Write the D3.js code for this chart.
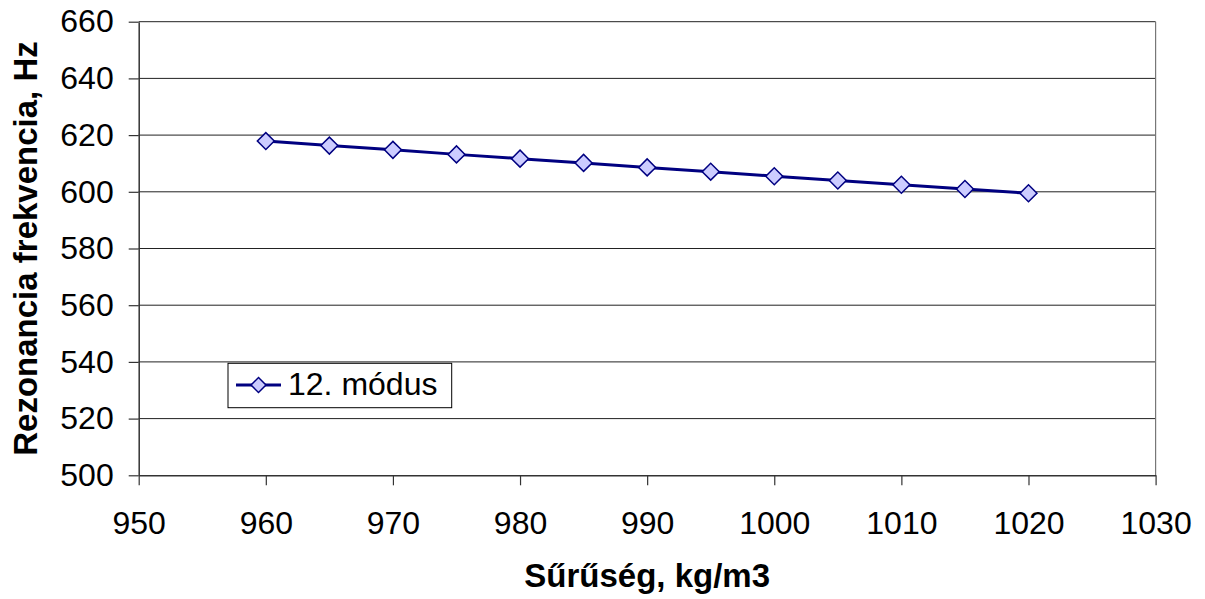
<!DOCTYPE html>
<html>
<head>
<meta charset="utf-8">
<script src="https://cdn.jsdelivr.net/npm/d3@7"></script>
<style>
  html, body { margin: 0; padding: 0; background: #fff; }
  svg { display: block; }
  text { font-family: Arial, "Liberation Sans", sans-serif; fill: #000; }
</style>
</head>
<body>
<svg id="chart" width="1205" height="599"></svg>
<script>
// Density (kg/m3) and resonance frequency (Hz) of the 12th mode
const densities = [960, 965, 970, 975, 980, 985, 990, 995, 1000, 1005, 1010, 1015, 1020];
const frequencies = [617.9, 616.3, 614.8, 613.2, 611.7, 610.2, 608.6, 607.1, 605.5, 604.0, 602.5, 601.0, 599.5];
const xTicks = [950, 960, 970, 980, 990, 1000, 1010, 1020, 1030];
const yTicks = [500, 520, 540, 560, 580, 600, 620, 640, 660];
const seriesName = "12. módus";
const xTitle = "Sűrűség, kg/m3";
const yTitle = "Rezonancia frekvencia, Hz";

const svg = d3.select("#chart");
const plotLeft = 138.7, plotRight = 1155.6, plotTop = 21.7, plotBottom = 475.3;

const x = d3.scaleLinear().domain([950, 1030]).range([plotLeft, plotRight]);
const y = d3.scaleLinear().domain([500, 660]).range([plotBottom, plotTop]);

// horizontal gridlines
svg.append("g")
  .selectAll("line")
  .data(yTicks.filter(v => v !== 500))
  .join("line")
  .attr("x1", plotLeft).attr("x2", plotRight)
  .attr("y1", d => y(d)).attr("y2", d => y(d))
  .attr("stroke", "#222").attr("stroke-width", 1);

// right border of the plot area
svg.append("line")
  .attr("x1", plotRight).attr("x2", plotRight)
  .attr("y1", plotTop).attr("y2", plotBottom)
  .attr("stroke", "#777").attr("stroke-width", 1.2);

// axes
const yAxis = svg.append("g")
  .attr("transform", `translate(${plotLeft},0)`)
  .call(d3.axisLeft(y).tickValues(yTicks).tickSize(10).tickPadding(15).tickSizeOuter(0).tickFormat(d3.format("d")));
const xAxis = svg.append("g")
  .attr("transform", `translate(0,${plotBottom})`)
  .call(d3.axisBottom(x).tickValues(xTicks).tickSize(10).tickPadding(26.3).tickSizeOuter(0).tickFormat(d3.format("d")));

[yAxis, xAxis].forEach(a => {
  a.select(".domain").attr("stroke", "#333").attr("stroke-width", 1.5);
  a.selectAll(".tick line").attr("stroke", "#333").attr("stroke-width", 1.2);
  a.selectAll(".tick text")
    .attr("font-family", "Arial, 'Liberation Sans', sans-serif")
    .attr("font-size", 32).attr("fill", "#000");
});

// series line
const line = d3.line().x((d, i) => x(densities[i])).y(d => y(d));
svg.append("path")
  .datum(frequencies)
  .attr("d", line)
  .attr("fill", "none")
  .attr("stroke", "#000080")
  .attr("stroke-width", 3);

// diamond markers
const diamond = d3.symbol(d3.symbolSquare, 144);
svg.append("g")
  .selectAll("path")
  .data(frequencies)
  .join("path")
  .attr("d", diamond)
  .attr("transform", (d, i) => `translate(${x(densities[i])},${y(d)}) rotate(45)`)
  .attr("fill", "#ccccff")
  .attr("stroke", "#000080")
  .attr("stroke-width", 1.5);

// legend
const lg = svg.append("g");
lg.append("rect")
  .attr("x", 228).attr("y", 363.3).attr("width", 223.7).attr("height", 44.4)
  .attr("fill", "#fff").attr("stroke", "#000").attr("stroke-width", 1);
lg.append("line")
  .attr("x1", 236).attr("x2", 281).attr("y1", 385).attr("y2", 385)
  .attr("stroke", "#000080").attr("stroke-width", 3);
lg.append("path")
  .attr("d", d3.symbol(d3.symbolSquare, 112)())
  .attr("transform", "translate(258.5,385) rotate(45)")
  .attr("fill", "#ccccff").attr("stroke", "#000080").attr("stroke-width", 1.5);
lg.append("text")
  .attr("x", 288).attr("y", 394.5)
  .attr("font-size", 32)
  .text(seriesName);

// axis titles
svg.append("text")
  .attr("x", (plotLeft + plotRight) / 2).attr("y", 587)
  .attr("text-anchor", "middle")
  .attr("font-size", 33).attr("font-weight", "bold")
  .text(xTitle);
svg.append("text")
  .attr("transform", `translate(37,${(plotTop + plotBottom) / 2}) rotate(-90)`)
  .attr("text-anchor", "middle")
  .attr("font-size", 33).attr("font-weight", "bold")
  .text(yTitle);
</script>
</body>
</html>
